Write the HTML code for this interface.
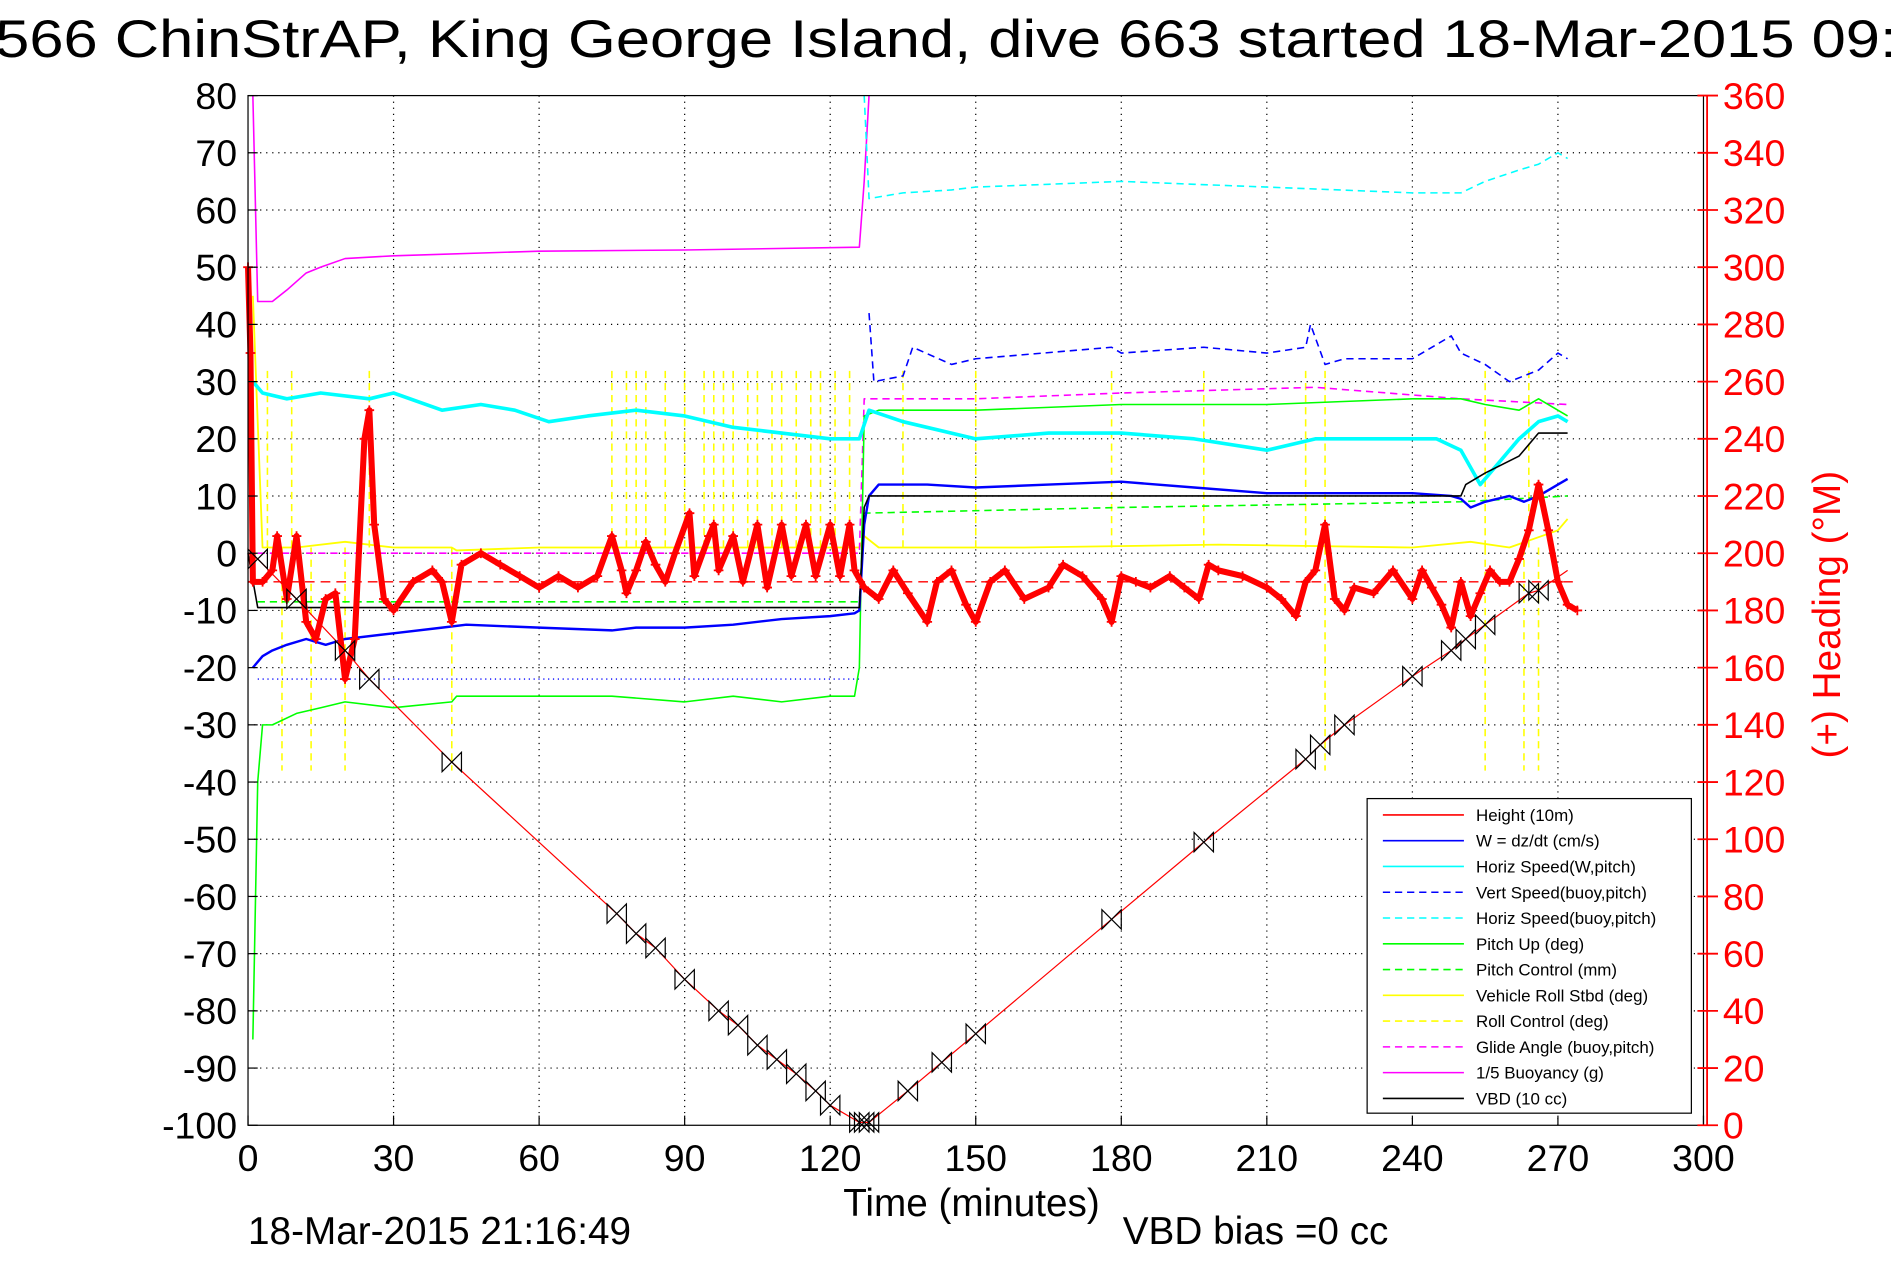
<!DOCTYPE html>
<html><head><meta charset="utf-8"><style>
html,body{margin:0;padding:0;background:#fff;}
svg{display:block;font-family:"Liberation Sans",Arial,sans-serif;}
</style></head><body>
<svg id="chart" width="1891" height="1262" viewBox="0 0 1563 1043" preserveAspectRatio="none" xmlns="http://www.w3.org/2000/svg">
<rect x="0" y="0" width="1563" height="1043" fill="#fff"/>
<text x="-4" y="47" font-size="44" textLength="1572" lengthAdjust="spacingAndGlyphs">566 ChinStrAP, King George Island, dive 663 started 18-Mar-2015 09:</text>
<g id="grid"></g>
<g id="series"></g>
<g id="axes"></g>
<g id="legend"></g>
</svg>
<script>
// ---- data ----
const xTicks=[0,30,60,90,120,150,180,210,240,270,300];
const yTicks=[80,70,60,50,40,30,20,10,0,-10,-20,-30,-40,-50,-60,-70,-80,-90,-100];
const hTicks=[360,340,320,300,280,260,240,220,200,180,160,140,120,100,80,60,40,20,0];
const depthT=[0,2,10,20,25,42,76,80,84,90,97,101,105,109,113,117,120,126,128,136,143,150,178,197,218,221,226,240,248,251,255,264,266,272];
const depthV=[0,-1,-8,-17,-22,-36.5,-63,-66.5,-69,-74.5,-80,-82.5,-86,-88.5,-91,-94,-96.5,-99.5,-99.5,-94,-89,-84,-64,-50.5,-36,-33.5,-30,-21.5,-17,-15,-12.5,-7,-6.5,-3];
const markT=[2,10,20,25,42,76,80,84,90,97,101,105,109,113,117,120,126,127,128,136,143,150,178,197,218,221,226,240,248,251,255,264,266];
const wT=[1,3,5,8,12,16,20,30,40,45,60,75,80,90,100,110,120,125,126,127,128,130,140,150,165,180,195,210,225,240,248,250,252,255,260,263,266,270,272];
const wV=[-20,-18,-17,-16,-15,-16,-15,-14,-13,-12.5,-13,-13.5,-13,-13,-12.5,-11.5,-11,-10.5,-10,5,10,12,12,11.5,12,12.5,11.5,10.5,10.5,10.5,10,9.5,8,9,10,9,10,12,13];
const vsT=[128,129,135,137,145,150,178,180,197,210,218,219,222,226,240,248,250,255,260,266,270,272];
const vsV=[42,30,31,36,33,34,36,35,36,35,36,40,33,34,34,38,35,33,30,32,35,34];
const hsT=[1,3,8,15,25,30,40,48,55,62,70,80,90,100,110,120,125,126,128,135,150,165,180,195,210,220,230,245,250,254,258,262,266,270,272];
const hsV=[30,28,27,28,27,28,25,26,25,23,24,25,24,22,21,20,20,20,25,23,20,21,21,20,18,20,20,20,18,12,16,20,23,24,23];
const hbT=[127,128,135,145,150,165,180,195,210,225,240,250,255,262,266,270,272];
const hbV=[80,62,63,63.5,64,64.5,65,64.5,64,63.5,63,63,65,67,68,70,69];
const puT=[1,2,3,5,10,15,20,30,42,43,60,75,90,100,110,120,125,126,127,130,150,180,210,240,250,255,262,266,272];
const puV=[-85,-40,-30,-30,-28,-27,-26,-27,-26,-25,-25,-25,-26,-25,-26,-25,-25,-20,24,25,25,26,26,27,27,26,25,27,24];
const pcT=[2,126,127,180,250,272];
const pcV=[-8.5,-8.5,7,8,9,10];
const vrT=[1,3,10,20,30,42,43,60,90,110,126,127,130,160,200,240,252,260,270,272];
const vrV=[45,1,1,2,1,1,0.5,1,1,1,1,3,1,1,1.5,1,2,1,4,6];
const rollUp=[4,9,25,75,78,80,82,86,90,94,96,98,100,103,105,108,110,113,116,118,121,124,135,150,178,197,218,222,255,264];
const rollDown=[7,13,20,42,222,255,263,266];
const gaT=[2,126,127,150,180,220,250,272];
const gaV=[0,0,27,27,28,29,27,26];
const buT=[1,2,5,8,12,15,20,30,60,90,126,127,128];
const buV=[80,44,44,46,49,50,51.5,52,52.8,53,53.5,65,80];
const vbdT=[0,2,126,127,128,160,250,251,255,262,266,272];
const vbdV=[0,-9.5,-9.5,8,10,10,10,12,14,17,21,21];
const hdT=[0,0.5,1,3,5,6,8,10,12,14,16,18,20,22,24,25,26,28,30,34,38,40,42,44,48,52,56,60,64,68,72,75,77,78,80,82,84,86,88,91,92,95,96,97,100,102,105,107,110,112,115,117,120,122,124,125,127,130,133,136,140,142,145,148,150,153,156,160,165,168,172,176,178,180,183,186,190,193,196,198,200,205,210,213,216,218,220,222,224,226,228,232,236,240,242,244,246,248,250,252,254,256,258,260,262,264,266,268,270,272,274];
const hdV=[300,270,190,190,194,206,184,206,176,170,184,186,156,170,240,250,210,184,180,190,194,190,176,196,200,196,192,188,192,188,192,206,194,186,194,204,196,190,200,214,192,206,210,194,206,190,210,188,210,192,210,192,210,192,210,194,188,184,194,186,176,190,194,182,176,190,194,184,188,196,192,184,176,192,190,188,192,188,184,196,194,192,188,184,178,190,194,210,184,180,188,186,194,184,194,188,182,174,190,178,186,194,190,190,198,208,224,208,190,182,180];
// ---- scales ----
const X0=205,X1=1408,Y0=79,Y1=930;
const xs=t=>X0+(t/300)*(X1-X0);
const ys=v=>Y1-((v+100)/180)*(Y1-Y0);
const yh=h=>Y1-(h/360)*(Y1-Y0);
const NS="http://www.w3.org/2000/svg";
function mk(tag,attrs,parent){const e=document.createElementNS(NS,tag);for(const k in attrs)e.setAttribute(k,attrs[k]);parent.appendChild(e);return e;}
const grid=document.getElementById('grid'),ser=document.getElementById('series'),ax=document.getElementById('axes'),lg=document.getElementById('legend');
// grid
xTicks.forEach(t=>{if(t>0&&t<300){const l=mk('line',{x1:xs(t),x2:xs(t),y1:Y0,y2:Y1,stroke:'#000','stroke-width':1,'stroke-dasharray':'1,4'},grid);

}});
yTicks.forEach(v=>{if(v>-100&&v<80){const l=mk('line',{x1:X0,x2:X1,y1:ys(v),y2:ys(v),stroke:'#000','stroke-width':1,'stroke-dasharray':'1,4'},grid);

}});
// reference lines
function ref(v,c,dash,t0,t1,name){const l=mk('line',{x1:xs(t0),x2:xs(t1),y1:ys(v),y2:ys(v),stroke:c,'stroke-width':1.2,'stroke-dasharray':dash},ser);

}
ref(-5,'#f00','8,5',2,274,'heading-target-line');
ref(-22,'#00f','1,3',2,126,'descent-rate-target-line');
function path(T,V,color,w,dash,name,yfn){const f=yfn||ys;let d='';T.forEach((t,i)=>{d+=(i?'L':'M')+xs(t).toFixed(1)+','+f(V[i]).toFixed(1);});
const p=mk('path',{d:d,fill:'none',stroke:color,'stroke-width':w,'stroke-dasharray':dash||'none','stroke-linejoin':'round'},ser);


return p;}
// roll control spikes (dashed yellow)
rollUp.forEach(t=>{const l=mk('line',{x1:xs(t),x2:xs(t),y1:ys(1),y2:ys(32),stroke:'#ff0','stroke-width':1.3,'stroke-dasharray':'6,4'},ser);

});
rollDown.forEach(t=>{const l=mk('line',{x1:xs(t),x2:xs(t),y1:ys(1),y2:ys(-38),stroke:'#ff0','stroke-width':1.3,'stroke-dasharray':'6,4'},ser);

});
path(vrT,vrV,'#ff0',1.5,null,'vehicle-roll-line');
path(gaT,gaV,'#f0f',1.3,'6,4','glide-angle-line');
path(buT,buV,'#f0f',1.3,null,'buoyancy-line');
path(pcT,pcV,'#0f0',1.3,'6,4','pitch-control-line');
path(puT,puV,'#0f0',1.3,null,'pitch-up-line');
path(hbT,hbV,'#0ff',1.3,'6,4','horiz-speed-buoy-line');
path(hsT,hsV,'#0ff',3,null,'horiz-speed-w-line');
path(vsT,vsV,'#00f',1.3,'6,4','vert-speed-buoy-line');
path(wT,wV,'#00f',2,null,'w-dzdt-line');
path(vbdT,vbdV,'#000',1.3,null,'vbd-line');
// heading
path(hdT,hdV,'#f00',5,null,'heading-trace',yh);
hdT.forEach((t,i)=>{const x=xs(t),y=yh(hdV[i]);const p=mk('path',{d:`M${x-4},${y}h8M${x},${y-4}v8`,stroke:'#f00','stroke-width':1.5},ser);

});
// depth
path(depthT,depthV,'#f00',1,null,'height-line');
markT.forEach(t=>{let i=depthT.indexOf(t);let v=i>=0?depthV[i]:-99.5;const x=xs(t),y=ys(v);
const p=mk('path',{d:`M${x-8},${y-8}L${x-8},${y+8}L${x+8},${y-8}L${x+8},${y+8}Z`,fill:'none',stroke:'#000','stroke-width':1},ser);

});
// axes frame
const fr=mk('rect',{x:X0,y:Y0,width:X1-X0,height:Y1-Y0,fill:'none',stroke:'#000','stroke-width':1},ax);


const ra=mk('line',{x1:1411,x2:1411,y1:Y0,y2:Y1,stroke:'#f00','stroke-width':1.5},ax);


xTicks.forEach(t=>{const tx=mk('text',{x:xs(t),y:968,'font-size':31,'text-anchor':'middle'},ax);tx.textContent=t;


mk('line',{x1:xs(t),x2:xs(t),y1:Y1,y2:Y1-8,stroke:'#000'},ax);});
yTicks.forEach(v=>{const tx=mk('text',{x:196,y:ys(v)+11,'font-size':31,'text-anchor':'end'},ax);tx.textContent=v;


mk('line',{x1:X0,x2:X0+8,y1:ys(v),y2:ys(v),stroke:'#000'},ax);});
hTicks.forEach(h=>{const tx=mk('text',{x:1424,y:yh(h)+11,'font-size':31,fill:'#f00'},ax);tx.textContent=h;


mk('line',{x1:1403,x2:1420,y1:yh(h),y2:yh(h),stroke:'#f00','stroke-width':1.5},ax);});
function txt(s,x,y,fs,name,extra){const t=mk('text',Object.assign({x:x,y:y,'font-size':fs},extra||{}),ax);t.textContent=s;

return t;}
txt('Time (minutes)',803,1005,32,'x-axis-title',{'text-anchor':'middle'});
txt('18-Mar-2015 21:16:49',205,1028,32,'timestamp');
txt('VBD bias =0 cc',928,1028,32,'vbd-bias-label');
txt('(+) Heading (°M)',0,0,32,'y2-axis-title',{fill:'#f00','text-anchor':'middle',transform:'translate(1521,508) rotate(-90)'});
// legend
const legendNames=['Height (10m)','W = dz/dt (cm/s)','Horiz Speed(W,pitch)','Vert Speed(buoy,pitch)','Horiz Speed(buoy,pitch)','Pitch Up (deg)','Pitch Control (mm)','Vehicle Roll Stbd (deg)','Roll Control (deg)','Glide Angle (buoy,pitch)','1/5 Buoyancy (g)','VBD (10 cc)'];
const legendColors=['#f00','#00f','#0ff','#00f','#0ff','#0f0','#0f0','#ff0','#ff0','#f0f','#f0f','#000'];
const legendDash=[0,0,0,1,1,0,1,0,1,1,0,0];
const lb=mk('rect',{x:1130,y:660,width:268,height:260,fill:'#fff',stroke:'#000','stroke-width':1},lg);


legendNames.forEach((n,i)=>{const y=673.5+i*21.3;
const l=mk('line',{x1:1143,x2:1210,y1:y,y2:y,stroke:legendColors[i],'stroke-width':1.3,'stroke-dasharray':legendDash[i]?'6,4':'none'},lg);


const t=mk('text',{x:1220,y:y+5,'font-size':14},lg);t.textContent=n;

});
</script>
</body></html>
